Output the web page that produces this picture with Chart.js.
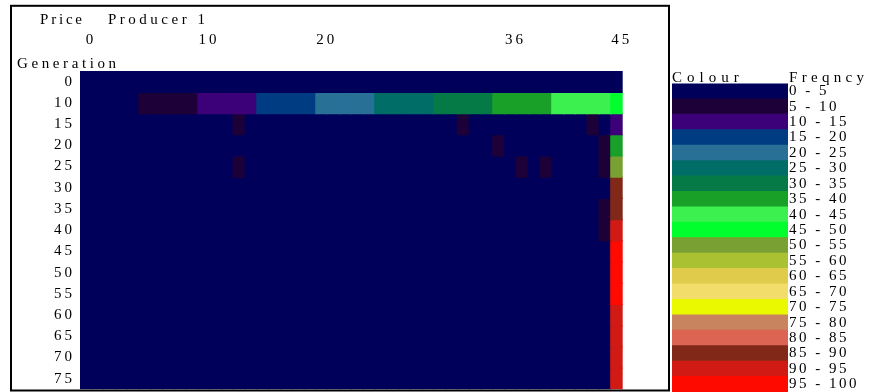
<!DOCTYPE html>
<html>
<head>
<meta charset="utf-8">
<script src="https://cdn.jsdelivr.net/npm/chart.js@4/dist/chart.umd.min.js"></script>
<style>
  html, body { margin: 0; padding: 0; background: #fff; }
  #wrap { position: relative; width: 871px; height: 392px; overflow: hidden; }
  #heat { position: absolute; left: 0; top: 0; }
  #key { position: absolute; left: 671px; top: 0; }
</style>
</head>
<body>
<div id="wrap">
  <canvas id="heat" width="871" height="392"></canvas>
  <canvas id="key" width="200" height="392"></canvas>
</div>
<script>
// Price columns of producer 1 and the labelled ones
const prices = [0, 1, 2, 3, 4, 5, 6, 7, 8, 9, 10, 11, 12, 13, 14, 15, 16, 17, 18, 19, 20, 21, 22,
                23, 24, 25, 26, 27, 28, 29, 30, 31, 32, 33, 34, 35, 36, 37, 38, 39, 40, 41, 42, 43, 44, 45];
const priceTicks = [0, 10, 20, 36, 45];

// Generation rows
const generations = [0, 10, 15, 20, 25, 30, 35, 40, 45, 50, 55, 60, 65, 70, 75];

// Frequency bands (%) and their colours
const bandLabels = ['0 - 5', '5 - 10', '10 - 15', '15 - 20', '20 - 25', '25 - 30', '30 - 35',
                    '35 - 40', '40 - 45', '45 - 50', '50 - 55', '55 - 60', '60 - 65', '65 - 70',
                    '70 - 75', '75 - 80', '80 - 85', '85 - 90', '90 - 95', '95 - 100'];
const bandColours = ['#00005a', '#1e0038', '#3c0078', '#003c82', '#287096', '#006e66', '#067a46',
                     '#18a028', '#3cf050', '#00ff2c', '#78a032', '#aac232', '#e0cc4a', '#f2dc6a',
                     '#eaf800', '#c8845e', '#dc6452', '#822818', '#d21a14', '#ff0a00'];

// Frequency band (index into bandLabels) for every price, one array per generation
const gen0  = [0,0,0,0,0, 0,0,0,0,0, 0,0,0,0,0, 0,0,0,0,0, 0,0,0,0,0, 0,0,0,0,0, 0,0,0,0,0, 0,0,0,0,0, 0,0,0,0,0, 0];
const gen10 = [0,0,0,0,0, 1,1,1,1,1, 2,2,2,2,2, 3,3,3,3,3, 4,4,4,4,4, 5,5,5,5,5, 6,6,6,6,6, 7,7,7,7,7, 8,8,8,8,8, 9];
const gen15 = [0,0,0,0,0, 0,0,0,0,0, 0,0,0,1,0, 0,0,0,0,0, 0,0,0,0,0, 0,0,0,0,0, 0,0,1,0,0, 0,0,0,0,0, 0,0,0,1,0, 2];
const gen20 = [0,0,0,0,0, 0,0,0,0,0, 0,0,0,0,0, 0,0,0,0,0, 0,0,0,0,0, 0,0,0,0,0, 0,0,0,0,0, 1,0,0,0,0, 0,0,0,0,1, 7];
const gen25 = [0,0,0,0,0, 0,0,0,0,0, 0,0,0,1,0, 0,0,0,0,0, 0,0,0,0,0, 0,0,0,0,0, 0,0,0,0,0, 0,0,1,0,1, 0,0,0,0,1, 10];
const gen30 = [0,0,0,0,0, 0,0,0,0,0, 0,0,0,0,0, 0,0,0,0,0, 0,0,0,0,0, 0,0,0,0,0, 0,0,0,0,0, 0,0,0,0,0, 0,0,0,0,0, 17];
const gen35 = [0,0,0,0,0, 0,0,0,0,0, 0,0,0,0,0, 0,0,0,0,0, 0,0,0,0,0, 0,0,0,0,0, 0,0,0,0,0, 0,0,0,0,0, 0,0,0,0,1, 17];
const gen40 = [0,0,0,0,0, 0,0,0,0,0, 0,0,0,0,0, 0,0,0,0,0, 0,0,0,0,0, 0,0,0,0,0, 0,0,0,0,0, 0,0,0,0,0, 0,0,0,0,1, 18];
const gen45 = [0,0,0,0,0, 0,0,0,0,0, 0,0,0,0,0, 0,0,0,0,0, 0,0,0,0,0, 0,0,0,0,0, 0,0,0,0,0, 0,0,0,0,0, 0,0,0,0,0, 19];
const gen50 = [0,0,0,0,0, 0,0,0,0,0, 0,0,0,0,0, 0,0,0,0,0, 0,0,0,0,0, 0,0,0,0,0, 0,0,0,0,0, 0,0,0,0,0, 0,0,0,0,0, 19];
const gen55 = [0,0,0,0,0, 0,0,0,0,0, 0,0,0,0,0, 0,0,0,0,0, 0,0,0,0,0, 0,0,0,0,0, 0,0,0,0,0, 0,0,0,0,0, 0,0,0,0,0, 19];
const gen60 = [0,0,0,0,0, 0,0,0,0,0, 0,0,0,0,0, 0,0,0,0,0, 0,0,0,0,0, 0,0,0,0,0, 0,0,0,0,0, 0,0,0,0,0, 0,0,0,0,0, 18];
const gen65 = [0,0,0,0,0, 0,0,0,0,0, 0,0,0,0,0, 0,0,0,0,0, 0,0,0,0,0, 0,0,0,0,0, 0,0,0,0,0, 0,0,0,0,0, 0,0,0,0,0, 18];
const gen70 = [0,0,0,0,0, 0,0,0,0,0, 0,0,0,0,0, 0,0,0,0,0, 0,0,0,0,0, 0,0,0,0,0, 0,0,0,0,0, 0,0,0,0,0, 0,0,0,0,0, 18];
const gen75 = [0,0,0,0,0, 0,0,0,0,0, 0,0,0,0,0, 0,0,0,0,0, 0,0,0,0,0, 0,0,0,0,0, 0,0,0,0,0, 0,0,0,0,0, 0,0,0,0,0, 18];

const generationRows = [gen0, gen10, gen15, gen20, gen25, gen30, gen35, gen40,
                        gen45, gen50, gen55, gen60, gen65, gen70, gen75];

const SERIF = '"Liberation Serif", "Times New Roman", serif';

// One floating-bar dataset per generation row: each price cell spans [row, row + 1]
const heatDatasets = generationRows.map((row, r) => ({
  label: 'Generation ' + generations[r],
  data: row.map(() => [r, r + 1]),
  backgroundColor: row.map(band => bandColours[band])
}));

const spacedText = (spacing) => ({
  id: 'spacedText',
  beforeDraw(chart) { chart.ctx.letterSpacing = spacing; }
});

// Keep the vertical axes from reserving room for half of their end labels
const noEndPadding = s => { s.paddingTop = 0; s.paddingBottom = 0; };

const heatFrame = {
  id: 'heatFrame',
  afterDraw(chart) {
    const ctx = chart.ctx;
    ctx.save();
    ctx.fillStyle = '#000';
    ctx.font = '15px ' + SERIF;
    ctx.textAlign = 'left';
    ctx.textBaseline = 'alphabetic';
    ctx.letterSpacing = '2.8px';
    ctx.fillText('Price', 40, 24);
    ctx.letterSpacing = '3.5px';
    ctx.fillText('Producer 1', 108, 24);
    ctx.letterSpacing = '3.6px';
    ctx.fillText('Generation', 17, 68);
    ctx.letterSpacing = '0px';
    ctx.lineWidth = 2;
    ctx.strokeStyle = '#000';
    ctx.strokeRect(11, 5.8, 658, 384.7);
    ctx.restore();
  }
};

new Chart(document.getElementById('heat'), {
  type: 'bar',
  data: { labels: prices.map(String), datasets: heatDatasets },
  options: {
    responsive: false,
    animation: false,
    layout: { padding: { left: 0, top: 0, right: 248.3, bottom: 2.7 } },
    datasets: { bar: { grouped: false, barPercentage: 1, categoryPercentage: 1, borderWidth: 0, inflateAmount: 0.7 } },
    plugins: { legend: { display: false }, tooltip: { enabled: false } },
    scales: {
      x: {
        type: 'category',
        position: 'top',
        grid: { display: false, drawTicks: false },
        border: { display: false },
        ticks: {
          autoSkip: false, maxRotation: 0, minRotation: 0,
          padding: 22, labelOffset: 5,
          color: '#000', font: { family: SERIF, size: 15 },
          callback: (v, i) => priceTicks.includes(prices[i]) ? String(prices[i]) : ''
        },
        afterFit: s => { s.height = 71; }
      },
      y: {
        type: 'linear',
        reverse: true,
        min: 0,
        max: generations.length,
        position: 'left',
        grid: { display: false, drawTicks: false },
        border: { display: false },
        afterBuildTicks: s => { s.ticks = generations.map((g, i) => ({ value: i + 0.5 })); },
        ticks: {
          padding: 5, color: '#000', font: { family: SERIF, size: 15 },
          callback: (v, i) => String(generations[i])
        },
        afterFit: s => { s.width = 80; noEndPadding(s); }
      }
    }
  },
  plugins: [spacedText('3px'), heatFrame]
});

// Colour key: one swatch per frequency band
const keyHeader = {
  id: 'keyHeader',
  afterDraw(chart) {
    const ctx = chart.ctx;
    ctx.save();
    ctx.fillStyle = '#000';
    ctx.font = '15px ' + SERIF;
    ctx.textAlign = 'left';
    ctx.textBaseline = 'alphabetic';
    ctx.letterSpacing = '5px';
    ctx.fillText('Colour', 1, 82);
    ctx.letterSpacing = '4.3px';
    ctx.fillText('Freqncy', 118, 82);
    ctx.restore();
  }
};

new Chart(document.getElementById('key'), {
  type: 'bar',
  data: {
    labels: bandLabels,
    datasets: [{ data: bandLabels.map(() => [0, 1]), backgroundColor: bandColours }]
  },
  options: {
    indexAxis: 'y',
    responsive: false,
    animation: false,
    layout: { padding: { left: 1, top: 83.5, right: 0, bottom: 0 } },
    datasets: { bar: { barPercentage: 1, categoryPercentage: 1, borderWidth: 0, inflateAmount: 0.5 } },
    plugins: { legend: { display: false }, tooltip: { enabled: false } },
    scales: {
      x: { display: false, min: 0, max: 1 },
      y: {
        position: 'right',
        grid: { display: false, drawTicks: false },
        border: { display: false },
        ticks: { autoSkip: false, padding: 1, color: '#000', font: { family: SERIF, size: 15 } },
        afterFit: s => { s.width = 83; noEndPadding(s); }
      }
    }
  },
  plugins: [spacedText('2.5px'), keyHeader]
});
</script>
</body>
</html>
